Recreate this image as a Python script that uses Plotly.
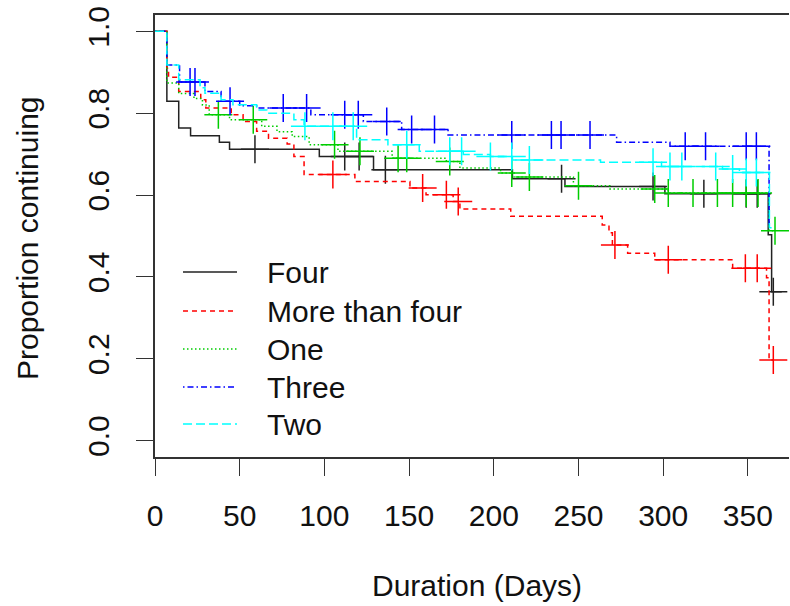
import bisect
import plotly.graph_objects as go

# Kaplan-Meier step estimates per group: event times and survival after each step
four_t = [0, 7, 14, 21, 38, 44, 97, 129, 211, 242, 301, 362, 364]
four_s = [1.0, 0.829, 0.764, 0.745, 0.729, 0.712, 0.694, 0.662, 0.640, 0.621, 0.603, 0.503, 0.364]
four_end = 370
four_cens = [59, 112, 120.5, 136, 240, 294, 324, 349, 355.5, 365]

more_t = [0, 7, 8, 14, 27, 30, 45, 52, 60, 67, 78, 82, 88, 118, 150.5, 160, 176, 180,
          210, 264, 268, 270, 279, 295, 341, 361, 362.5]
more_s = [1.0, 0.910, 0.888, 0.853, 0.833, 0.813, 0.796, 0.780, 0.756, 0.739, 0.725, 0.694,
          0.650, 0.633, 0.617, 0.601, 0.584, 0.566, 0.548, 0.527, 0.508, 0.478, 0.458, 0.442,
          0.421, 0.398, 0.197]
more_end = 365
more_cens = [105, 158, 172, 179, 271.5, 303, 348.5, 355.5, 365]

one_t = [0, 7, 14, 23, 28, 32, 44, 63, 72, 81, 91, 108, 140, 172, 180, 204, 212, 247,
         268.6, 303, 362.5]
one_s = [1.0, 0.874, 0.848, 0.836, 0.820, 0.796, 0.784, 0.768, 0.755, 0.743, 0.723, 0.707,
         0.690, 0.682, 0.666, 0.654, 0.644, 0.623, 0.615, 0.605, 0.513]
one_end = 366
one_cens = [37.4, 58, 106, 121, 143.5, 148.6, 174, 210.6, 221, 250, 295, 303, 317.6, 332,
            341, 349, 356, 366]

three_t = [0, 7, 14.5, 29.5, 39, 50, 60, 92, 123, 145.6, 173, 272.5, 304, 362.5]
three_s = [1.0, 0.918, 0.876, 0.853, 0.829, 0.818, 0.813, 0.796, 0.780, 0.760, 0.747,
           0.729, 0.719, 0.53]
three_end = 364
three_cens = [20.7, 23.6, 44.3, 75.7, 89.5, 112, 120, 136.8, 151.5, 165, 210.6, 234,
              239.7, 256.8, 313, 325, 349, 355]

two_t = [0, 7, 14, 26.6, 29.5, 39, 46, 60, 66, 82, 88, 119, 137.5, 156, 182, 198, 211,
         263, 299, 335, 345, 362.7]
two_s = [1.0, 0.918, 0.882, 0.862, 0.849, 0.833, 0.821, 0.808, 0.800, 0.784, 0.768, 0.735,
         0.723, 0.707, 0.699, 0.694, 0.686, 0.680, 0.670, 0.664, 0.655, 0.52]
two_end = 364
two_cens = [88.5, 105, 117, 148.6, 174, 181, 198, 210.6, 221, 294, 304, 311, 331, 341,
            349, 355]

group_names = ["Four", "More than four", "One", "Three", "Two"]
x_ticks = [0, 50, 100, 150, 200, 250, 300, 350]
y_ticks = [0.0, 0.2, 0.4, 0.6, 0.8, 1.0]

groups = [
    (four_t, four_s, four_end, four_cens),
    (more_t, more_s, more_end, more_cens),
    (one_t, one_s, one_end, one_cens),
    (three_t, three_s, three_end, three_cens),
    (two_t, two_s, two_end, two_cens),
]
colors = ["#222222", "#FF0000", "#00CD00", "#0000FF", "#00FFFF"]
dashes = ["solid", "5px,4px", "1.5px,2.5px", "1.5px,3px,6px,3px", "9px,4px"]

FONT = "Liberation Sans, Arial, sans-serif"
FS = 30

# plot box in pixels
L, R, T, B = 155, 1, 15, 149
W, H = 790, 606
PW, PH = W - L - R, H - T - B


def surv_at(times, surv, t):
    i = bisect.bisect_right(times, t) - 1
    return surv[max(i, 0)]


fig = go.Figure()
for (t, s, end, cens), col, dash, name in zip(groups, colors, dashes, group_names):
    fig.add_trace(go.Scatter(
        x=t + [end], y=s + [s[-1]], mode="lines", line_shape="hv",
        line=dict(color=col, width=1.5, dash=dash), name=name, showlegend=False,
        hoverinfo="skip"))
    fig.add_trace(go.Scatter(
        x=cens, y=[surv_at(t, s, c) for c in cens], mode="markers",
        marker=dict(symbol="cross-thin", size=20, line=dict(color=col, width=1.5)),
        showlegend=False, hoverinfo="skip"))


def px_x(px):
    return (px - L) / PW


def px_y(py):
    return 1 - (py - T) / PH


# legend drawn as line samples plus text
legend_rows = [272, 311, 349, 387, 424]
shapes = []
annotations = []
for row, col, dash, name in zip(legend_rows, colors, dashes, group_names):
    shapes.append(dict(type="line", xref="paper", yref="paper",
                       x0=px_x(183), x1=px_x(237), y0=px_y(row), y1=px_y(row),
                       line=dict(color=col, width=1.5, dash=dash)))
    annotations.append(dict(text=name, xref="paper", yref="paper", x=px_x(265),
                            y=px_y(row), xanchor="left", yanchor="middle",
                            showarrow=False, font=dict(size=FS, color="#111", family=FONT)))

annotations.append(dict(text="Duration (Days)", xref="paper", yref="paper",
                        x=px_x(477), y=px_y(585), xanchor="center", yanchor="middle",
                        showarrow=False, font=dict(size=FS, color="#111", family=FONT)))
annotations.append(dict(text="Proportion continuing", xref="paper", yref="paper",
                        x=px_x(27), y=px_y(238), xanchor="center", yanchor="middle",
                        textangle=-90, showarrow=False,
                        font=dict(size=FS, color="#111", family=FONT)))

axis_common = dict(showgrid=False, zeroline=False, showline=True, linecolor="#333",
                   linewidth=1.5, ticks="outside", ticklen=17, tickwidth=1.3,
                   tickcolor="#333", tickfont=dict(size=FS, color="#111", family=FONT))

fig.update_layout(
    width=W, height=H, margin=dict(l=L, r=R, t=T, b=B),
    paper_bgcolor="white", plot_bgcolor="white",
    xaxis=dict(range=[0, PW / 1.694], tickvals=x_ticks, mirror=True,
               ticklabelstandoff=14, **axis_common),
    yaxis=dict(range=[-0.04, 1.04], tickvals=y_ticks,
               ticktext=[f"{v:.1f}" for v in y_ticks], tickangle=-90,
               ticklabelstandoff=15, mirror=False, **axis_common),
    shapes=shapes, annotations=annotations, showlegend=False,
)

fig.write_html("out.html")
